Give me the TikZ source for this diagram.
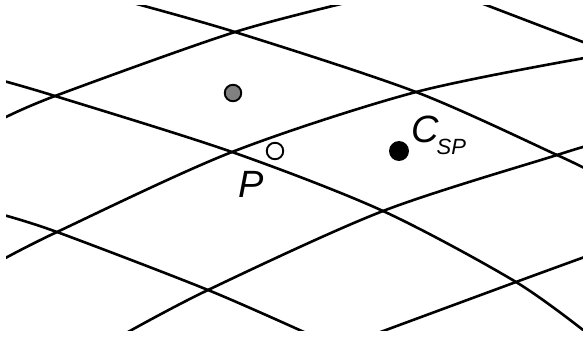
\documentclass[tikz,border=0pt]{standalone}
\usepackage{fontspec}
\setmainfont{Liberation Sans}
\begin{document}
\begin{tikzpicture}[x=1pt, y=-1pt,
    gridline/.style={line width=2.6pt, black},
    dot/.style={circle, draw=black, line width=1.9pt, inner sep=0pt, minimum size=16.5pt},
    lbl/.style={inner sep=0pt, font=\fontsize{38}{38}\selectfont\itshape}]
    \useasboundingbox (0,0) rectangle (583,338);

    \begin{scope}
        \clip (6,5) rectangle (583,330);
        % curves rising to the right
        \draw[gridline] plot[smooth] coordinates {(0,120) (55,96) (235,32) (362,-1)};
        \draw[gridline] plot[smooth] coordinates {(0,261) (57,232) (232,152) (416,92) (590,57)};
        \draw[gridline] plot[smooth] coordinates {(119,337) (208,290) (383,211) (557,155) (590,145)};
        \draw[gridline] plot[smooth] coordinates {(367,337) (516,282) (590,255)};
        % curves falling to the right
        \draw[gridline] plot[smooth] coordinates {(473,0) (583,42) (600,48)};
        \draw[gridline] plot[smooth] coordinates {(122,0) (235,32) (416,92) (557,155) (590,171)};
        \draw[gridline] plot[smooth] coordinates {(0,80) (55,96) (232,152) (383,211) (516,282) (592,337)};
        \draw[gridline] plot[smooth] coordinates {(0,214) (57,232) (208,290) (315,337)};
    \end{scope}

    \node[dot, fill=gray] (grey) at (233,93) {};
    \node[dot, fill=white] (pdot) at (275,151) {};
    \node[dot, fill=black, minimum size=18pt] (csp) at (399,151) {};

    \node[lbl] (plabel) at (251,184) {P};
    \node[lbl, anchor=base west] (csplabel) at (411,142)
        {C\kern-2pt\raisebox{-12pt}{\fontsize{22}{22}\selectfont SP}};
\end{tikzpicture}
\end{document}
